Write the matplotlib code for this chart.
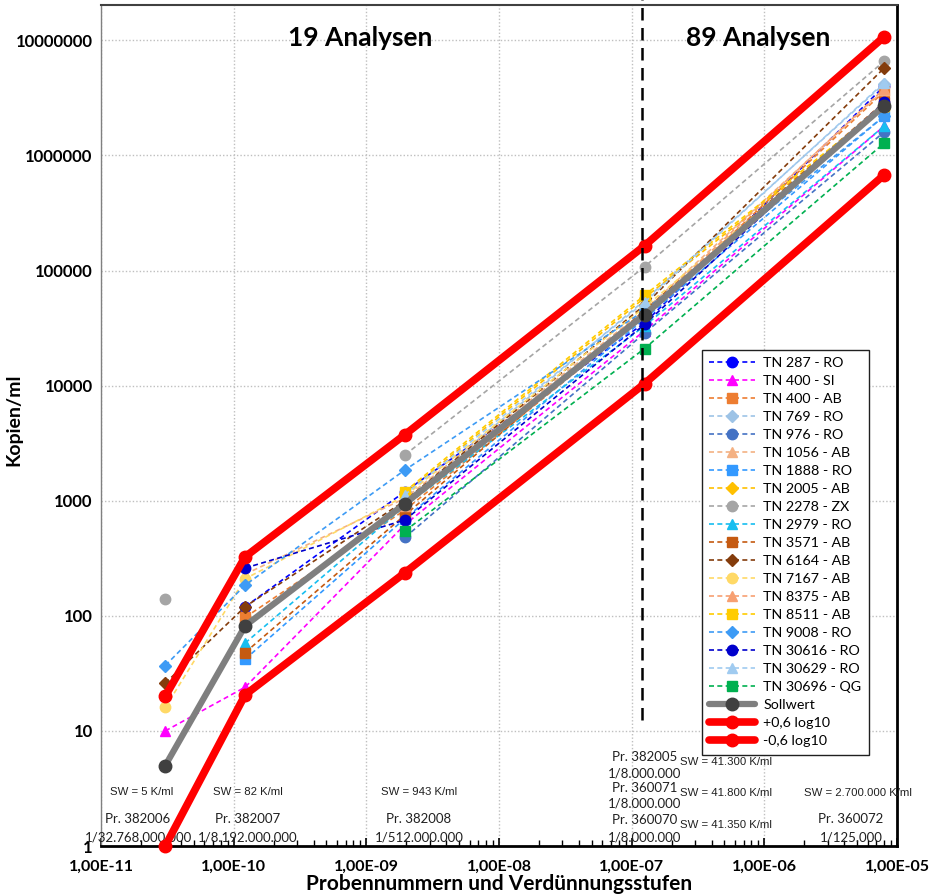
import numpy as np
import matplotlib
matplotlib.use("Agg")
import matplotlib.pyplot as plt
from matplotlib.ticker import FixedLocator, FuncFormatter, LogLocator, NullLocator

nan = np.nan

# dilution steps (x) for the five sample levels
dilutions = [1 / 32768000000, 1 / 8192000000, 1 / 512000000, 1 / 8000000, 1 / 125000]

# measured copies/ml per participant (nan = not measured at that level)
tn_labels = ["TN 287 - RO", "TN 400 - SI", "TN 400 - AB", "TN 769 - RO", "TN 976 - RO",
             "TN 1056 - AB", "TN 1888 - RO", "TN 2005 - AB", "TN 2278 - ZX", "TN 2979 - RO",
             "TN 3571 - AB", "TN 6164 - AB", "TN 7167 - AB", "TN 8375 - AB", "TN 8511 - AB",
             "TN 9008 - RO", "TN 30616 - RO", "TN 30629 - RO", "TN 30696 - QG"]
tn_287 = [nan, 120, 1200, 35000, 4000000]
tn_400_si = [10, 24, 620, 30000, 1800000]
tn_400_ab = [nan, 97, 830, 40000, 3600000]
tn_769 = [nan, nan, 1000, 55000, 4200000]
tn_976 = [nan, nan, 480, 28600, 1600000]
tn_1056 = [nan, 230, 1050, 45000, 3700000]
tn_1888 = [nan, 42, 700, 38000, 2200000]
tn_2005 = [nan, nan, 1150, 58000, 2600000]
tn_2278 = [140, nan, 2500, 108000, 6600000]
tn_2979 = [nan, 58, 900, 33000, 1800000]
tn_3571 = [nan, 48, 750, 45000, 2900000]
tn_6164 = [26, 120, 1000, 50000, 5750000]
tn_7167 = [16, 210, 1100, 48000, 2600000]
tn_8375 = [nan, nan, 900, 42000, 3800000]
tn_8511 = [nan, nan, 1200, 61000, 2700000]
tn_9008 = [37, 185, 1850, 45000, 2200000]
tn_30616 = [nan, 260, 680, 34000, 2900000]
tn_30629 = [nan, nan, 1130, 53000, 4300000]
tn_30696 = [nan, nan, 546, 21000, 1280000]
tn_values = [tn_287, tn_400_si, tn_400_ab, tn_769, tn_976, tn_1056, tn_1888, tn_2005,
             tn_2278, tn_2979, tn_3571, tn_6164, tn_7167, tn_8375, tn_8511, tn_9008,
             tn_30616, tn_30629, tn_30696]

sollwert = [5, 82, 943, 41300, 2700000]
upper_limit = [20, 326, 3754, 164400, 10750000]
lower_limit = [1, 20.6, 237, 10400, 678000]

tn_colors = ["#0000FF", "#FF00FF", "#ED7D31", "#9DC3E6", "#4472C4", "#F4B183", "#3399FF",
             "#FFC000", "#A5A5A5", "#17BEF0", "#C55A11", "#843C0C", "#FFD966", "#F7A072",
             "#FFCC00", "#3D9BF5", "#0000CC", "#A0CBF0", "#00B050"]
tn_markers = ["o", "^", "s", "D", "o", "^", "s", "D", "o", "^",
              "s", "D", "o", "^", "s", "D", "o", "^", "s"]

fig = plt.figure(figsize=(9.31, 8.96), dpi=100)
ax = fig.add_axes([101 / 931, 50 / 896, 796 / 931, 841 / 896])

for label, vals, col, mk in zip(tn_labels, tn_values, tn_colors, tn_markers):
    ms = 6 if mk == "D" else 7.5
    ax.plot(dilutions, vals, linestyle=(0, (3, 2)), lw=1.2, color=col,
            marker=mk, markersize=ms, markerfacecolor=col, markeredgecolor=col,
            label=label, zorder=3)

ax.plot(dilutions, sollwert, color="#7F7F7F", lw=4.5, marker="o", markersize=9,
        markerfacecolor="#404040", markeredgecolor="#404040", label="Sollwert",
        solid_capstyle="round", zorder=4)
ax.plot(dilutions, upper_limit, color="#FF0000", lw=5.5, marker="o", markersize=9,
        label="+0,6 log10", solid_capstyle="round", zorder=5, clip_on=False)
ax.plot(dilutions, lower_limit, color="#FF0000", lw=5.5, marker="o", markersize=9,
        label="-0,6 log10", solid_capstyle="round", zorder=5, clip_on=False)

# separator between the two sample groups
ax.plot([1.19e-7, 1.19e-7], [12.4, 2.3e7], color="black", lw=1.8,
        linestyle=(0, (5, 3)), clip_on=False, zorder=6)

ax.set_xscale("log")
ax.set_yscale("log")
ax.set_xlim(1e-11, 1e-5)
ax.set_ylim(1, 2.03e7)

ax.xaxis.set_major_locator(FixedLocator([10.0 ** e for e in range(-11, -4)]))
ax.xaxis.set_minor_locator(LogLocator(base=10, subs=np.arange(2, 10)))
ax.xaxis.set_major_formatter(FuncFormatter(
    lambda v, p: "1,00E-%02d" % round(-np.log10(v))))
ax.yaxis.set_major_locator(FixedLocator([10.0 ** e for e in range(0, 8)]))
ax.yaxis.set_minor_locator(NullLocator())
ax.yaxis.set_major_formatter(FuncFormatter(lambda v, p: "%d" % round(v)))

ax.tick_params(axis="x", which="major", direction="in", length=6, width=1.2, pad=10)
ax.tick_params(axis="x", which="minor", direction="in", length=4, width=1.0)
ax.tick_params(axis="y", which="major", length=0, pad=6)
for lbl in ax.get_xticklabels():
    lbl.set_fontfamily("Lato")
    lbl.set_fontweight("bold")
    lbl.set_fontsize(11.5)
for lbl in ax.get_yticklabels():
    lbl.set_fontfamily("Lato")
    lbl.set_fontweight("bold")
    lbl.set_fontsize(12)

ax.grid(True, which="major", color="#BFBFBF", linestyle=(0, (1, 1.5)), lw=1)
ax.set_axisbelow(True)

ax.spines["left"].set_color("#808080")
ax.spines["left"].set_linewidth(1.0)
ax.spines["top"].set_color("#404040")
ax.spines["top"].set_linewidth(1.5)
ax.spines["right"].set_color("black")
ax.spines["right"].set_linewidth(2)
ax.spines["bottom"].set_color("black")
ax.spines["bottom"].set_linewidth(2)

ax.set_ylabel("Kopien/ml", fontfamily="Lato", fontweight="bold", fontsize=14)
ax.yaxis.set_label_coords(-0.099, 0.507)
ax.set_xlabel("Probennummern und Verdünnungsstufen", fontfamily="Lato",
              fontweight="bold", fontsize=15, labelpad=0)

ax.text(0.3254, 0.9608, "19 Analysen", transform=ax.transAxes, ha="center", va="center",
        fontfamily="Lato", fontweight="bold", fontsize=19)
ax.text(0.8254, 0.9608, "89 Analysen", transform=ax.transAxes, ha="center", va="center",
        fontfamily="Lato", fontweight="bold", fontsize=19)

# sample annotations along the bottom
sw_kw = dict(transform=ax.transAxes, ha="center", va="center",
             fontfamily="Liberation Sans", fontsize=8.2, color="#202020")
pr_kw = dict(transform=ax.transAxes, ha="center", va="center",
             fontfamily="Lato", fontsize=9.5, color="#202020")

ax.text(0.0515, 0.0642, "SW = 5 K/ml", **sw_kw)
ax.text(0.1847, 0.0642, "SW = 82 K/ml", **sw_kw)
ax.text(0.3995, 0.0642, "SW = 943 K/ml", **sw_kw)
ax.text(0.7852, 0.0999, "SW = 41.300 K/ml", **sw_kw)
ax.text(0.7852, 0.0630, "SW = 41.800 K/ml", **sw_kw)
ax.text(0.7852, 0.0250, "SW = 41.350 K/ml", **sw_kw)
ax.text(0.9510, 0.0630, "SW = 2.700.000 K/ml", **sw_kw)

ax.text(0.0465, 0.0321, "Pr. 382006", **pr_kw)
ax.text(0.0465, 0.0107, "1/32.768.000.000", **pr_kw)
ax.text(0.1847, 0.0321, "Pr. 382007", **pr_kw)
ax.text(0.1847, 0.0107, "1/8.192.000.000", **pr_kw)
ax.text(0.3995, 0.0321, "Pr. 382008", **pr_kw)
ax.text(0.3995, 0.0107, "1/512.000.000", **pr_kw)
ax.text(0.6834, 0.1058, "Pr. 382005", **pr_kw)
ax.text(0.6834, 0.0868, "1/8.000.000", **pr_kw)
ax.text(0.6834, 0.0690, "Pr. 360071", **pr_kw)
ax.text(0.6834, 0.0511, "1/8.000.000", **pr_kw)
ax.text(0.6834, 0.0309, "Pr. 360070", **pr_kw)
ax.text(0.6834, 0.0107, "1/8.000.000", **pr_kw)
ax.text(0.9420, 0.0321, "Pr. 360072", **pr_kw)
ax.text(0.9420, 0.0107, "1/125.000", **pr_kw)

leg = ax.legend(loc="upper left", bbox_to_anchor=(0.755, 0.59), borderaxespad=0,
                prop={"family": "Lato", "size": 10.3}, frameon=True, fancybox=False,
                framealpha=1, edgecolor="#202020", handlelength=3.2,
                labelspacing=0.42, borderpad=0.5, handletextpad=0.6)
leg.get_frame().set_linewidth(1.0)
leg.set_zorder(10)

fig.savefig("out.png", dpi=100)
